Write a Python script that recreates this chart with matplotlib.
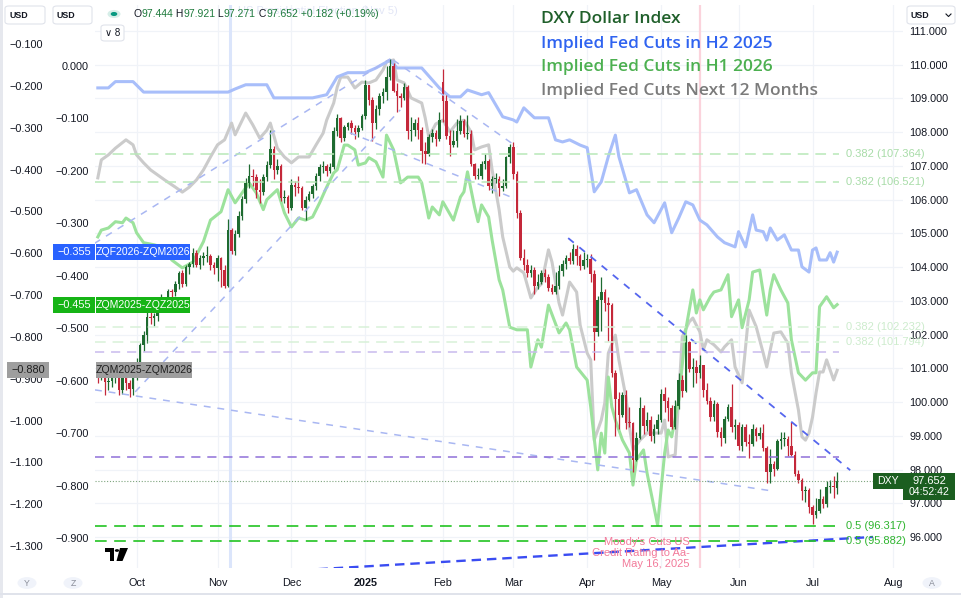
import numpy as np
import pandas as pd
import matplotlib
matplotlib.use("Agg")
import matplotlib.pyplot as plt
from matplotlib.patches import Rectangle, FancyBboxPatch, Circle, Polygon
from matplotlib.lines import Line2D
from matplotlib.ticker import FuncFormatter

plt.rcParams["font.family"] = ["Liberation Sans", "DejaVu Sans"]

# ---------------- DXY daily candles (Sep 16 2024 .. Jul 10 2025) ----------------
dxy_open = [
    100.95, 100.75, 100.89, 100.60, 100.62, 100.72, 100.86, 100.36, 100.91, 100.56, 100.38,
    100.78, 101.20, 101.69, 101.99, 102.52, 102.48, 102.54, 102.93, 102.98, 102.89, 103.29, 103.25,
    103.49, 103.83, 103.49, 104.01, 104.08, 104.41, 104.06, 104.26, 104.32, 104.32, 104.07,
    103.98, 104.28, 103.90, 103.43, 105.09, 104.49, 104.99, 105.52, 106.01, 106.50, 106.70, 106.67,
    106.28, 106.22, 106.68, 107.04, 107.51, 106.88, 106.99, 106.06, 106.08,
    105.74, 106.44, 106.37, 106.35, 105.75, 105.99, 106.16, 106.40, 106.71, 106.96, 107.00, 106.85,
    106.96, 108.03, 108.41, 107.82, 108.14, 108.26, 108.13, 108.00, 108.13,
    108.49, 109.39, 108.95, 108.26, 108.68, 109.07, 109.18, 109.65, 109.96, 109.23, 109.08, 109.02,
    109.35, 108.03, 108.06, 108.26, 108.06, 107.44, 107.35, 107.86, 107.99, 107.80,
    109.50, 108.92, 107.90, 107.61, 107.73, 108.04, 108.33, 107.95, 107.95, 107.05, 106.71, 106.71,
    107.07, 107.16, 106.39, 106.62, 106.62, 106.34, 106.40, 107.25,
    107.56, 106.76, 105.59, 104.28, 104.06, 103.84, 103.90, 103.44, 103.57, 103.82, 103.72, 103.37,
    103.26, 103.43, 103.87, 104.09, 104.26, 104.17, 104.55, 104.33, 104.04,
    104.21, 104.25, 103.80, 102.07, 103.02, 103.26, 102.95, 102.89, 100.87, 100.10, 99.63, 100.22,
    99.39, 99.38, 98.28, 98.92, 99.83, 99.30, 99.47, 98.99, 99.21,
    99.47, 100.24, 100.03, 99.83, 99.25, 99.88, 100.64, 100.34, 101.79, 100.98, 101.05, 100.86,
    101.09, 100.36, 100.04, 99.55, 99.94, 99.11, 98.93, 99.51, 99.86, 99.27,
    99.33, 98.70, 99.25, 98.81, 98.75, 99.19, 98.99, 99.09, 98.64, 97.92, 98.15, 98.02,
    98.84, 98.89, 98.91, 98.71, 98.43, 97.86, 97.70, 97.37, 97.40,
    96.88, 96.65, 96.78, 97.13, 96.97, 97.47, 97.52, 97.444,
]
dxy_high = [
    101.05, 101.05, 101.00, 101.20, 100.85, 101.00, 100.95, 101.00, 101.05, 100.65, 100.85,
    101.30, 101.75, 102.10, 102.69, 102.70, 102.65, 103.00, 103.20, 103.10, 103.35, 103.35, 103.60,
    103.87, 103.90, 104.05, 104.15, 104.57, 104.50, 104.35, 104.45, 104.63, 104.40, 104.15,
    104.35, 104.30, 104.05, 105.44, 105.15, 105.10, 105.65, 106.12, 106.63, 107.07, 106.90, 106.75,
    106.60, 106.75, 107.15, 108.07, 107.60, 107.20, 107.05, 106.30, 106.15,
    106.60, 106.55, 106.70, 106.40, 106.10, 106.25, 106.45, 106.80, 107.05, 107.15, 107.05, 107.10,
    108.15, 108.54, 108.45, 108.20, 108.30, 108.35, 108.20, 108.20, 108.55,
    109.55, 109.40, 109.05, 108.80, 109.15, 109.30, 109.97, 110.17, 110.05, 109.45, 109.15, 109.45,
    109.40, 108.45, 108.40, 108.45, 108.15, 107.70, 107.95, 108.10, 108.05, 108.60,
    109.88, 109.10, 108.05, 108.05, 108.40, 108.50, 108.40, 108.50, 108.05, 107.10, 106.95, 107.15,
    107.35, 107.20, 106.70, 106.80, 106.70, 106.60, 107.30, 107.65,
    107.70, 106.85, 105.70, 104.55, 104.25, 104.05, 104.00, 103.80, 103.90, 103.95, 103.80, 103.50,
    103.85, 104.05, 104.20, 104.35, 104.45, 104.68, 104.65, 104.40, 104.45,
    104.40, 104.40, 103.90, 103.15, 103.72, 103.35, 103.10, 102.95, 100.95, 100.30, 100.30, 100.35,
    99.85, 99.40, 99.10, 100.15, 99.90, 99.70, 99.60, 99.35, 99.65,
    100.38, 100.45, 100.15, 99.90, 100.05, 100.85, 100.80, 101.98, 101.80, 101.30, 101.25, 101.40,
    101.10, 100.55, 100.15, 100.05, 100.00, 99.25, 99.60, 99.95, 100.54, 99.50,
    99.40, 99.35, 99.35, 99.05, 99.35, 99.25, 99.25, 99.35, 98.70, 98.60, 98.25, 98.90,
    99.10, 99.10, 99.00, 99.42, 98.55, 98.00, 97.75, 97.50, 97.45,
    96.95, 97.15, 97.42, 97.20, 97.65, 97.70, 97.80, 97.921,
]
dxy_low = [
    100.55, 100.65, 100.21, 100.35, 100.45, 100.55, 100.20, 100.25, 100.35, 100.16, 100.20,
    100.65, 101.05, 101.50, 101.75, 102.30, 102.25, 102.40, 102.70, 102.75, 102.85, 103.00, 103.15,
    103.35, 103.40, 103.45, 103.80, 104.00, 104.00, 103.95, 104.05, 104.15, 103.90, 103.80,
    103.60, 103.40, 103.37, 103.40, 104.38, 104.35, 104.90, 105.40, 105.90, 106.35, 106.40, 106.05,
    105.90, 106.15, 106.55, 106.95, 106.60, 106.75, 105.95, 105.90, 105.60,
    105.70, 106.10, 106.20, 105.70, 105.40, 105.95, 106.05, 106.30, 106.55, 106.80, 106.70, 106.80,
    106.90, 107.90, 107.70, 107.75, 108.05, 107.95, 107.80, 107.85, 108.05,
    108.40, 108.80, 107.75, 108.10, 108.50, 108.85, 108.95, 109.55, 109.20, 108.60, 108.75, 108.95,
    107.80, 107.75, 107.90, 107.80, 107.08, 107.05, 107.30, 107.70, 107.60, 107.75,
    108.30, 107.80, 107.30, 107.55, 107.55, 107.95, 107.85, 107.80, 107.00, 106.60, 106.60, 106.60,
    106.90, 106.30, 106.20, 106.50, 106.10, 106.25, 106.35, 107.10,
    106.60, 105.45, 104.20, 103.90, 103.70, 103.70, 103.20, 103.35, 103.50, 103.55, 103.30, 103.20,
    103.20, 103.35, 103.75, 103.95, 104.10, 104.10, 104.05, 103.90, 103.95,
    104.00, 103.55, 101.26, 101.95, 102.10, 102.70, 101.80, 100.75, 99.00, 99.20, 99.55, 99.20,
    99.25, 97.92, 98.25, 98.90, 99.05, 99.15, 98.85, 98.80, 99.05,
    99.40, 99.70, 99.45, 99.20, 99.20, 99.80, 100.15, 100.30, 100.90, 100.45, 100.55, 100.70,
    100.15, 99.95, 99.45, 99.45, 98.95, 98.70, 98.80, 99.45, 99.10, 98.90,
    98.58, 98.55, 98.70, 98.35, 98.70, 98.85, 98.90, 98.55, 97.60, 97.60, 97.80, 98.00,
    98.60, 98.70, 98.40, 98.40, 97.80, 97.60, 97.10, 97.05, 96.70,
    96.38, 96.55, 96.70, 96.85, 96.90, 97.30, 97.15, 97.271,
]
dxy_close = [
    100.75, 100.89, 100.60, 100.62, 100.72, 100.86, 100.36, 100.91, 100.56, 100.38, 100.78,
    101.20, 101.69, 101.99, 102.52, 102.48, 102.54, 102.93, 102.98, 102.89, 103.29, 103.25, 103.49,
    103.83, 103.49, 104.01, 104.08, 104.41, 104.06, 104.26, 104.32, 104.32, 104.07, 103.98,
    104.28, 103.90, 103.43, 105.09, 104.49, 104.99, 105.52, 106.01, 106.50, 106.70, 106.67, 106.28,
    106.22, 106.68, 107.04, 107.51, 106.88, 106.99, 106.06, 106.08, 105.74,
    106.44, 106.37, 106.35, 105.75, 105.99, 106.16, 106.40, 106.71, 106.96, 107.00, 106.85, 106.96,
    108.03, 108.41, 107.82, 108.14, 108.26, 108.13, 108.00, 108.13, 108.49,
    109.39, 108.95, 108.26, 108.68, 109.07, 109.18, 109.65, 109.96, 109.23, 109.08, 109.02, 109.35,
    108.03, 108.06, 108.26, 108.06, 107.44, 107.35, 107.86, 107.99, 107.80, 108.37,
    108.92, 107.90, 107.61, 107.73, 108.04, 108.33, 107.95, 107.95, 107.05, 106.71, 106.71, 107.07,
    107.16, 106.39, 106.62, 106.62, 106.34, 106.40, 107.25, 107.56,
    106.76, 105.59, 104.28, 104.06, 103.84, 103.90, 103.44, 103.57, 103.82, 103.72, 103.37, 103.26,
    103.43, 103.87, 104.09, 104.26, 104.17, 104.55, 104.33, 104.04, 104.21,
    104.25, 103.80, 102.07, 103.02, 103.26, 102.95, 102.89, 100.87, 100.10, 99.63, 100.22, 99.39,
    99.38, 98.28, 98.92, 99.83, 99.30, 99.47, 98.99, 99.21, 99.47,
    100.24, 100.03, 99.83, 99.25, 99.88, 100.64, 100.34, 101.79, 100.98, 101.05, 100.86, 101.09,
    100.36, 100.04, 99.55, 99.94, 99.11, 98.93, 99.51, 99.86, 99.27, 99.33,
    98.70, 99.25, 98.81, 98.75, 99.19, 98.99, 99.09, 98.64, 97.92, 98.15, 98.02, 98.84,
    98.89, 98.91, 98.71, 98.43, 97.86, 97.70, 97.37, 97.40, 96.88,
    96.65, 96.78, 97.13, 96.97, 97.47, 97.52, 97.47, 97.652,
]

# ---------------- implied cut spreads (bar index, value) ----------------
blue_idx = [0, 3, 5, 10, 13, 37, 39, 42, 48, 50, 61, 65, 68, 71, 76, 79, 83, 85, 92, 97,
            100, 103, 105, 109, 111, 115, 118, 119, 121, 124, 128, 130, 132, 134, 137, 139, 141, 143, 145, 147,
            148, 151, 153, 156, 158, 161, 163, 165, 167, 169, 171, 173, 176, 178, 181, 182, 184, 186, 187, 189,
            190, 191, 193, 195, 197, 199, 200, 202, 203, 204, 205, 207, 208, 209, 210]
blue_val = [-0.042, -0.042, -0.030, -0.030, -0.050, -0.050, -0.044, -0.036, -0.036, -0.061,
            -0.061, -0.055, -0.021, -0.013, -0.013, -0.004, 0.011, -0.004, -0.004, -0.042,
            -0.059, -0.059, -0.046, -0.055, -0.051, -0.097, -0.103, -0.107, -0.080, -0.099,
            -0.099, -0.141, -0.145, -0.141, -0.151, -0.156, -0.240, -0.221, -0.173, -0.132,
            -0.173, -0.242, -0.236, -0.284, -0.299, -0.261, -0.318, -0.290, -0.259, -0.265,
            -0.294, -0.303, -0.326, -0.337, -0.345, -0.316, -0.345, -0.284, -0.313, -0.316,
            -0.332, -0.309, -0.332, -0.322, -0.351, -0.351, -0.383, -0.393, -0.351, -0.347,
            -0.370, -0.370, -0.356, -0.374, -0.355]

green_idx = [0, 1, 3, 5, 7, 8, 10, 11, 13, 16, 18, 20, 21, 24, 27, 30, 32, 35, 37, 39,
             41, 43, 45, 47, 48, 51, 53, 55, 57, 59, 61, 63, 65, 67, 68, 70, 71, 73, 74, 76,
             77, 79, 81, 82, 84, 86, 88, 91, 92, 94, 95, 97, 98, 101, 103, 104, 105, 107, 108, 109,
             111, 112, 114, 115, 117, 119, 122, 123, 125, 126, 128, 131, 133, 134, 136, 139, 140, 142, 143, 144,
             145, 146, 147, 149, 151, 152, 153, 155, 156, 159, 161, 162, 163, 165, 167, 169, 170, 171, 172, 174,
             175, 177, 179, 180, 182, 183, 185, 186, 188, 190, 191, 192, 194, 196, 197, 199, 201, 203, 204, 205,
             207, 209, 210]
green_val = [-0.326, -0.313, -0.309, -0.297, -0.299, -0.290, -0.299, -0.318, -0.337, -0.341,
             -0.345, -0.356, -0.370, -0.385, -0.374, -0.335, -0.294, -0.278, -0.236, -0.261,
             -0.242, -0.223, -0.242, -0.274, -0.255, -0.236, -0.280, -0.307, -0.290, -0.294,
             -0.288, -0.261, -0.231, -0.204, -0.198, -0.151, -0.151, -0.160, -0.189, -0.185,
             -0.175, -0.183, -0.212, -0.132, -0.160, -0.223, -0.212, -0.212, -0.223, -0.290,
             -0.269, -0.284, -0.259, -0.294, -0.250, -0.240, -0.202, -0.269, -0.297, -0.265,
             -0.288, -0.332, -0.408, -0.427, -0.498, -0.503, -0.503, -0.574, -0.522, -0.536,
             -0.456, -0.509, -0.490, -0.503, -0.574, -0.599, -0.650, -0.770, -0.700, -0.738,
             -0.593, -0.650, -0.675, -0.713, -0.738, -0.799, -0.751, -0.732, -0.776, -0.875,
             -0.738, -0.694, -0.707, -0.637, -0.503, -0.427, -0.471, -0.446, -0.465, -0.440,
             -0.431, -0.427, -0.398, -0.478, -0.446, -0.499, -0.446, -0.393, -0.389, -0.475,
             -0.427, -0.398, -0.427, -0.452, -0.522, -0.585, -0.599, -0.585, -0.585, -0.459,
             -0.440, -0.461, -0.455]

gray_idx = [0, 1, 3, 5, 8, 10, 11, 13, 15, 17, 19, 22, 24, 26, 28, 30, 32, 34, 36, 38,
            39, 41, 42, 44, 46, 48, 49, 51, 53, 55, 57, 60, 62, 64, 65, 67, 68, 69, 71, 73,
            75, 77, 79, 81, 82, 84, 85, 87, 89, 92, 93, 94, 96, 98, 100, 102, 104, 106, 107, 109,
            111, 112, 114, 115, 117, 118, 119, 121, 123, 125, 126, 128, 129, 131, 132, 134, 136, 137, 139, 140,
            141, 143, 144, 145, 147, 148, 150, 151, 152, 154, 156, 158, 160, 161, 162, 164, 165, 166, 168, 169,
            170, 171, 172, 173, 175, 177, 178, 180, 181, 183, 185, 187, 189, 190, 192, 194, 196, 197, 199, 200,
            201, 202, 203, 204, 205, 206, 207, 209, 210]
gray_val = [-0.420, -0.377, -0.365, -0.349, -0.329, -0.341, -0.365, -0.384, -0.401, -0.413,
            -0.425, -0.442, -0.454, -0.442, -0.425, -0.401, -0.370, -0.341, -0.329, -0.289,
            -0.317, -0.282, -0.265, -0.293, -0.325, -0.306, -0.289, -0.349, -0.370, -0.384,
            -0.370, -0.370, -0.341, -0.313, -0.282, -0.241, -0.203, -0.179, -0.179, -0.205,
            -0.191, -0.193, -0.186, -0.162, -0.143, -0.138, -0.186, -0.193, -0.229, -0.241,
            -0.277, -0.322, -0.291, -0.282, -0.310, -0.289, -0.282, -0.310, -0.353, -0.346,
            -0.341, -0.401, -0.497, -0.561, -0.633, -0.643, -0.635, -0.647, -0.707, -0.681,
            -0.674, -0.592, -0.621, -0.719, -0.748, -0.669, -0.693, -0.772, -0.839, -0.855,
            -1.047, -0.999, -0.958, -0.839, -0.796, -0.855, -0.944, -1.015, -1.070, -1.047,
            -1.030, -1.030, -1.030, -0.999, -1.087, -1.082, -0.944, -0.800, -0.764, -0.755,
            -0.772, -0.788, -0.831, -0.807, -0.819, -0.836, -0.824, -0.807, -0.872, -0.910,
            -0.736, -0.776, -0.839, -0.872, -0.791, -0.788, -0.815, -0.886, -0.975, -1.039,
            -1.047, -1.030, -0.992, -0.934, -0.884, -0.884, -0.855, -0.903, -0.880]

series_names = ["ZQF2026-ZQM2026", "ZQM2025-ZQZ2025", "ZQM2025-ZQM2026"]
title_lines = ["DXY Dollar Index", "Implied Fed Cuts in H2 2025",
               "Implied Fed Cuts in H1 2026", "Implied Fed Cuts Next 12 Months"]

# chart drawings (bar index, DXY level)
light_trends = [((-1.0, 104.70), (83.0, 110.17)),
                ((10.6, 100.30), (85.9, 108.66)),
                ((83.9, 110.14), (119.1, 107.56)),
                ((71.6, 107.98), (118.0, 106.05)),
                ((-0.8, 100.36), (191.8, 97.36))]
mid_trend = ((133.6, 104.86), (213.7, 97.98))
dark_trend = ((58.3, 95.02), (220.2, 96.00))
fib_upper = [(0.382, 107.364), (0.382, 106.521)]
fib_faint = [(0.382, 102.232), (0.382, 101.794)]
fib_half = [(0.5, 96.317), (0.5, 95.882)]
purple_light = 101.48
purple_strong = 98.37

# ---------------- calendar ----------------
dates = pd.bdate_range("2024-09-16", "2025-08-29")
dates = dates[~dates.isin(pd.to_datetime(["2024-12-25", "2025-01-01", "2025-04-18"]))]
month_pos, month_lab = [], []
for m in pd.period_range("2024-10", "2025-08", freq="M"):
    month_pos.append(int(np.searchsorted(dates, m.start_time)))
    month_lab.append("2025" if m.month == 1 else m.strftime("%b"))
moodys_pos = dates.get_loc(pd.Timestamp("2025-05-16"))
election_pos = 37.6  # drawn line sits a little right of the Nov 5 bar

o = np.array(dxy_open)
h = np.array(dxy_high)
l = np.array(dxy_low)
c = np.array(dxy_close)
x = np.arange(len(c))

# ---------------- figure / axes ----------------
W, H = 962, 598
fig = plt.figure(figsize=(W / 100, H / 100), dpi=100)
fig.patch.set_facecolor("white")

PL, PR, PT, PB = 95, 903, 5, 568
rect = [PL / W, 1 - PB / H, (PR - PL) / W, (PB - PT) / H]
ax_bg = fig.add_axes(rect, zorder=0)
ax_gray = fig.add_axes(rect, zorder=1, sharex=ax_bg)
ax_fed = fig.add_axes(rect, zorder=2, sharex=ax_bg)
ax_px = fig.add_axes(rect, zorder=3, sharex=ax_bg, sharey=ax_bg)

ax_bg.set_xlim(-0.8, 228.7)
ax_bg.set_ylim(95.08, 111.77)
ax_gray.set_ylim(-1.3526, -0.0067)
ax_fed.set_ylim(-0.957, 0.116)

tick_col = "#131722"


def fmt3(v, pos=None):
    if abs(v) < 1e-9:
        return "0.000"
    return f"{v:.3f}".replace("-", "\u2212")


for a in (ax_bg, ax_gray, ax_fed, ax_px):
    for s in a.spines.values():
        s.set_visible(False)
for a in (ax_gray, ax_fed, ax_px):
    a.patch.set_visible(False)

# right DXY axis + months
ax_bg.yaxis.tick_right()
ax_bg.set_yticks(np.arange(96, 112))
ax_bg.yaxis.set_major_formatter(FuncFormatter(fmt3))
ax_bg.tick_params(axis="y", length=0, pad=4.5, labelsize=7.8, labelcolor=tick_col)
ax_bg.set_xticks(month_pos)
ax_bg.set_xticklabels(month_lab)
ax_bg.tick_params(axis="x", length=0, pad=7.5, labelsize=7.8, labelcolor=tick_col)
for t in ax_bg.get_xticklabels():
    if t.get_text() == "2025":
        t.set_fontweight("bold")

grid_col = "#f0f3f8"
for p in month_pos:
    ax_bg.axvline(p, color=grid_col, lw=0.9, zorder=0)
for v in range(96, 112):
    ax_bg.axhline(v, color=grid_col, lw=0.9, zorder=0)
ax_bg.axvline(election_pos, color="#dbe5fb", lw=2.2, zorder=1)
ax_bg.axvline(moodys_pos, color="#fbd3dc", lw=1.6, zorder=1)

# left scales
ax_gray.yaxis.set_ticks_position("left")
ax_gray.set_yticks(np.round(np.arange(-0.1, -1.35, -0.1), 1))
ax_gray.yaxis.set_major_formatter(FuncFormatter(fmt3))
ax_gray.tick_params(axis="y", length=0, pad=37.4, labelsize=7.8, labelcolor=tick_col)
ax_gray.tick_params(axis="x", bottom=False, labelbottom=False)

ax_fed.yaxis.set_ticks_position("left")
ax_fed.set_yticks(np.round(np.arange(0.0, -0.95, -0.1), 1))
ax_fed.yaxis.set_major_formatter(FuncFormatter(fmt3))
ax_fed.tick_params(axis="y", length=0, pad=4.3, labelsize=7.8, labelcolor=tick_col)
ax_fed.tick_params(axis="x", bottom=False, labelbottom=False)

ax_px.set_axis_off()

# implied cut lines
ax_gray.plot(gray_idx, gray_val, color="#cbcbcb", lw=2.2, solid_joinstyle="round")
ax_fed.plot(green_idx, green_val, color="#9ce29c", lw=2.2, solid_joinstyle="round")
ax_fed.plot(blue_idx, blue_val, color="#a8befa", lw=2.2, solid_joinstyle="round")

# candles
up_col, dn_col = "#1e6b30", "#c4283a"
cols = np.where(c >= o, up_col, dn_col)
ax_px.vlines(x, l, h, colors=cols, lw=0.9, zorder=3)
ax_px.bar(x, np.maximum(np.abs(c - o), 0.03), bottom=np.minimum(o, c), width=0.72,
          color=cols, linewidth=0, zorder=4)

# drawings
for (x0, y0), (x1, y1) in light_trends:
    ax_px.plot([x0, x1], [y0, y1], color="#a9b7f2", lw=1.1, dashes=(4.5, 4.5), zorder=5)
ax_px.plot(*zip(*mid_trend), color="#5566ee", lw=1.3, dashes=(4, 4), zorder=5)
ax_px.plot(*zip(*dark_trend), color="#3a4cf2", lw=1.7, dashes=(4, 2.5), zorder=5)

x_end, x_lab = 210.5, 212.6
for r, lev in fib_upper:
    ax_px.hlines(lev, -0.8, x_end, colors="#b8e8b8", lw=1.1, linestyles=(0, (7, 4.5)), zorder=5)
    ax_px.text(x_lab, lev, f"{r} ({lev:.3f})", color="#a8dca8", fontsize=8, va="center", zorder=6)
for r, lev in fib_faint:
    ax_px.hlines(lev, -0.8, x_end, colors="#d8f1d8", lw=1.1, linestyles=(0, (7, 4.5)), zorder=5)
    ax_px.text(x_lab, lev, f"{r} ({lev:.3f})", color="#cdeccd", fontsize=8, va="center", zorder=6)
for r, lev in fib_half:
    ax_px.hlines(lev, -0.8, x_end, colors="#22c322", lw=1.2, linestyles=(0, (7, 4.5)), zorder=5)
    ax_px.text(x_lab, lev, f"{r} ({lev:.3f})", color="#2fb52f", fontsize=8, va="center", zorder=6)
ax_px.hlines(purple_light, -0.8, x_end, colors="#c9bbee", lw=1.1, linestyles=(0, (6, 4.5)), zorder=5)
ax_px.hlines(purple_strong, -0.8, x_end, colors="#8f70d9", lw=1.1, linestyles=(0, (6, 4.5)), zorder=5)
ax_px.hlines(c[-1], -0.8, 220.3, colors="#7fa57f", lw=0.8, linestyles=(0, (1, 1.6)), zorder=5)

# ---------------- overlays in pixel space ----------------
def fxy(px, py):
    return px / W, 1 - py / H


def box(x0, y0, x1, y1, fc, ec="none", lw=0.0, z=20, rounded=False):
    if rounded:
        p = FancyBboxPatch((x0 / W, 1 - y1 / H), (x1 - x0) / W, (y1 - y0) / H,
                           boxstyle="round,pad=0,rounding_size=0.004",
                           transform=fig.transFigure, fc=fc, ec=ec, lw=lw, zorder=z)
    else:
        p = Rectangle((x0 / W, 1 - y1 / H), (x1 - x0) / W, (y1 - y0) / H,
                      transform=fig.transFigure, fc=fc, ec=ec, lw=lw, zorder=z)
    fig.add_artist(p)


def txt(px, py, s, **kw):
    kw.setdefault("va", "center")
    kw.setdefault("zorder", 21)
    return fig.text(*fxy(px, py), s, **kw)


def y_top(ax, v):
    return H - ax.transData.transform((0, v))[1]


# left value tags
tags = [(ax_fed, blue_val[-1], series_names[0], "#2962ff", "white", 53, 95, 96, 190),
        (ax_fed, green_val[-1], series_names[1], "#16b416", "white", 53, 95, 96, 190),
        (ax_gray, gray_val[-1], series_names[2], "#9e9e9e", "#1f1f1f", 7, 49, 96, 192)]
for ax_, v, name, fc, tc, a0, a1, b0, b1 in tags:
    yc = y_top(ax_, v)
    box(a0, yc - 8, a1, yc + 8, fc)
    box(b0, yc - 8, b1, yc + 8, fc)
    txt((a0 + a1) / 2, yc, fmt3(v), color=tc, fontsize=7.8, ha="center")
    txt((b0 + b1) / 2, yc, name, color=tc, fontsize=7.6, ha="center")

# right price tags
yc = y_top(ax_px, c[-1])
box(873, yc - 8, 903, yc + 8, "#1b5e20")
txt(888, yc, "DXY", color="white", fontsize=7.6, ha="center")
box(903, yc - 8, 955, yc + 19, "#1b5e20")
txt(929, yc, f"{c[-1]:.3f}", color="white", fontsize=8, ha="center")
txt(929, yc + 11, "04:52:42", color="white", fontsize=7.6, ha="center")

# title block
title_cols = ["#1f5f2a", "#2f63f0", "#4cb050", "#7b7b7b"]
for s, col, yy in zip(title_lines, title_cols, [19, 44, 67, 91]):
    txt(541, yy, s, color=col, fontsize=12.5, family="Open Sans", fontweight="semibold", ha="left")

# event notes
txt(238, 11, "US Presidential Election (Nov 5)", color="#e2e6f6", fontsize=8, ha="left", zorder=2)
for s, yy in zip(["Moody's Cuts US", "Credit Rating to Aa-", "May 16, 2025"], [542, 553, 564]):
    txt(690, yy, s, color="#f27a9a", fontsize=8, ha="right")

# header
box(5, 6, 45, 24, "white", ec="#e0e3eb", lw=0.8, rounded=True)
box(53, 6, 92, 24, "white", ec="#e0e3eb", lw=0.8, rounded=True)
txt(10, 15, "USD", color=tick_col, fontsize=6.4, ha="left", fontweight="bold")
txt(57, 15, "USD", color=tick_col, fontsize=6.4, ha="left", fontweight="bold")
box(907, 6, 955, 24, "white", ec="#e0e3eb", lw=0.8, rounded=True)
txt(911, 15, "USD", color=tick_col, fontsize=6.4, ha="left", fontweight="bold")
fig.add_artist(Line2D([946 / W, 948.5 / W, 951 / W], [1 - 14 / H, 1 - 16.5 / H, 1 - 14 / H],
                      color=tick_col, lw=0.8, transform=fig.transFigure, zorder=21))
box(101, 25, 124, 41, "white", ec="#e0e3eb", lw=0.8, rounded=True)
txt(112.5, 33, "\u2228 8", color=tick_col, fontsize=7, ha="center")
fig.add_artist(Circle(fxy(114, 14), 6.5 / W, transform=fig.transFigure, fc="#d6eee8", ec="none", zorder=20))
fig.add_artist(Circle(fxy(114, 14), 3.3 / W, transform=fig.transFigure, fc="#089981", ec="none", zorder=21))

renderer = fig.canvas.get_renderer()
green_txt = "#1e7a3c"
chg = c[-1] - c[-2]
pieces = [("O", tick_col), (f"{o[-1]:.3f}", green_txt), (" H", tick_col), (f"{h[-1]:.3f}", green_txt),
          (" L", tick_col), (f"{l[-1]:.3f}", green_txt), (" C", tick_col), (f"{c[-1]:.3f}", green_txt),
          (f" {chg:+.3f} ({chg / c[-2] * 100:+.2f}%)", green_txt)]
xpos = 133
for s, col in pieces:
    t = txt(xpos, 14, s, color=col, fontsize=7.5, ha="left")
    xpos += t.get_window_extent(renderer).width

# bottom controls
for cx, s in [(27, "Y"), (73, "Z"), (932, "A")]:
    fig.add_artist(Circle(fxy(cx, 583), 9.5 / W, transform=fig.transFigure, fc="#f0f3fa", ec="none", zorder=20))
    txt(cx, 583, s, color="#8a8e99", fontsize=6.3, ha="center")

# logo
for poly in ([(105, 548), (114, 548), (114, 561), (110, 561), (110, 552), (105, 552)],
             [(120, 548), (128, 548), (122.5, 561), (116.5, 561)]):
    fig.add_artist(Polygon([fxy(*p) for p in poly], closed=True, transform=fig.transFigure,
                           fc="black", ec="none", zorder=20))
fig.add_artist(Circle(fxy(117, 550.5), 2.2 / W, transform=fig.transFigure, fc="black", ec="none", zorder=20))

# panel frame
box(0, 0, 3, 598, "#e6e8ee", z=22)
box(0, 593, 962, 594.5, "#e0e3eb", z=22)

fig.savefig("out.png", dpi=100, facecolor="white")
